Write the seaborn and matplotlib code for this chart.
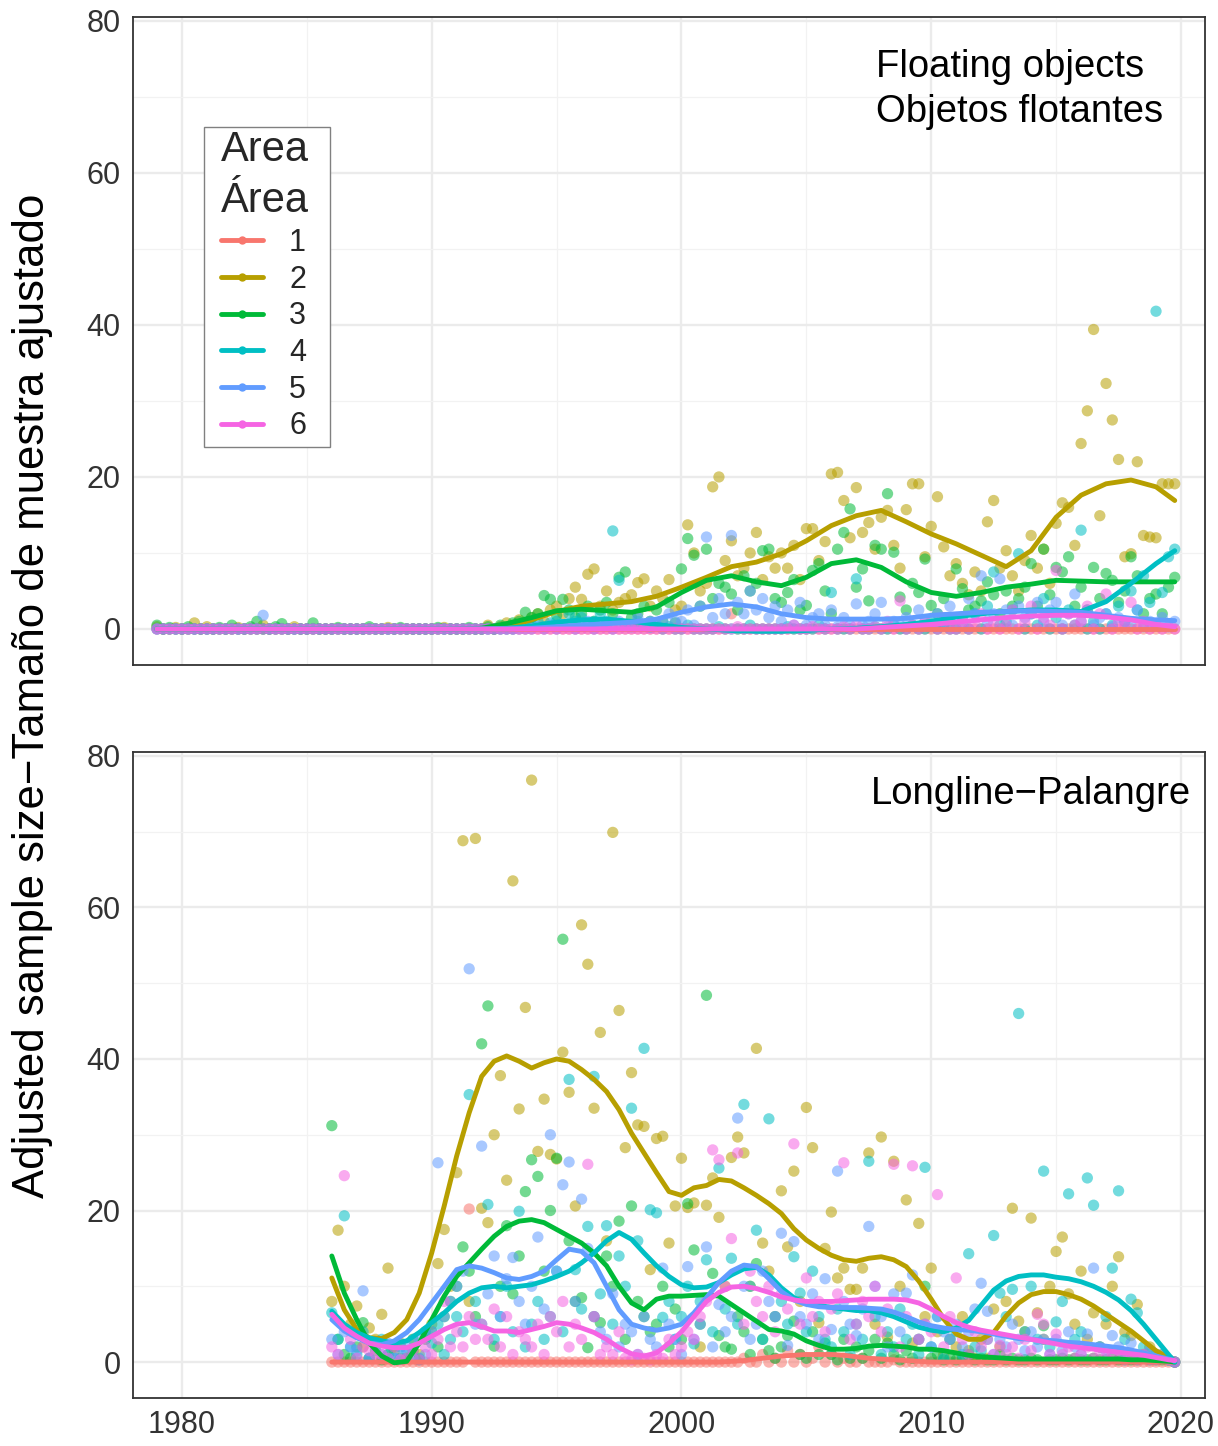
import numpy as np
import pandas as pd
import matplotlib
matplotlib.use("Agg")
import matplotlib.pyplot as plt
import seaborn as sns
from matplotlib.lines import Line2D
from matplotlib.patches import Rectangle
from matplotlib.ticker import MultipleLocator

# ---------------- data ----------------
areas = ["1", "2", "3", "4", "5", "6"]
area_colors = ["#F8766D", "#B79F00", "#00BA38", "#00BFC4", "#619CFF", "#F564E3"]
quarters = [0.0, 0.25, 0.5, 0.75]
top_years = list(range(1979, 2020))
bot_years = list(range(1986, 2020))
x_ticks = [1980, 1990, 2000, 2010, 2020]
y_ticks = [0, 20, 40, 60, 80]
top_label = "Floating objects\nObjetos flotantes"
bot_label = "Longline\u2212Palangre"
y_label = "Adjusted sample size\u2212Tama\u00f1o de muestra ajustado"
legend_title = "Area\n\u00c1rea"

# Floating objects, quarterly 1979-2019 (4 values per year)
top_area1 = [
    0, 0, 0, 0, 0, 0, 0, 0, 0, 0, 0, 0, 0, 0, 0, 0,
    0, 0, 0, 0, 0, 0, 0, 0, 0, 0, 0, 0, 0, 0, 0, 0,
    0, 0, 0, 0, 0, 0, 0, 0, 0, 0, 0, 0, 0, 0, 0, 0,
    0, 0, 0, 0, 0, 0, 0, 0, 0, 0, 0, 0, 0, 0, 0, 0,
    0, 0, 0, 0, 0, 0, 0, 0, 0, 0, 0, 0, 0, 0, 0, 0,
    0, 0, 0, 0, 0, 0, 0, 0, 0, 0, 0, 0, 2.0, 0, 0, 0,
    0, 0, 0, 0, 0, 0, 0, 0, 0, 0, 0, 0, 0, 0, 0, 0,
    0, 0, 0, 0, 0, 0, 0, 0, 0, 0, 0, 0, 0, 0, 0, 0,
    0, 0, 0, 0, 0, 0, 0, 0, 0, 0, 0, 0, 0, 0, 0, 0,
    0, 0, 0, 0, 0, 0, 0, 0, 0, 0, 0, 0, 0, 0, 0, 0,
    0, 0, 0, 0]
top_area2 = [
    0.3, 0, 0, 0.2, 0, 0, 0.8, 0, 0.3, 0, 0, 0, 0, 0.2, 0, 0,
    0, 0.5, 0, 0, 0, 0, 0.3, 0, 0, 0, 0, 0, 0, 0, 0, 0,
    0, 0, 0, 0, 0, 0.2, 0, 0, 0, 0, 0, 0, 0, 0, 0.2, 0,
    0, 0, 0, 0, 0, 0.5, 0, 0.3, 0.8, 0.5, 1.2, 0.7, 1.5, 2.0, 1.0, 2.5,
    3.0, 2.0, 4.0, 5.5, 3.9, 7.2, 7.9, 3.0, 5.0, 2.5, 3.5, 4.0, 4.5, 6.1, 6.6, 3.0,
    5.0, 4.0, 6.5, 2.5, 3.0, 13.7, 10.0, 5.0, 6.0, 18.7, 20.0, 9.0, 11.6, 7.0, 8.0, 10.0,
    12.7, 6.5, 9.5, 8.0, 10.0, 8.0, 11.0, 6.5, 13.2, 13.2, 9.0, 11.5, 20.4, 20.6, 16.9, 12.0,
    18.6, 12.7, 14.0, 10.5, 14.7, 15.6, 11.0, 8.0, 15.7, 19.1, 19.1, 9.5, 13.5, 17.4, 10.8, 7.0,
    8.6, 6.0, 4.5, 7.5, 5.0, 14.1, 16.9, 8.0, 10.3, 7.0, 5.0, 9.0, 12.3, 8.0, 10.5, 6.0,
    13.9, 16.6, 16.0, 11.0, 24.4, 28.7, 39.4, 14.9, 32.3, 27.5, 22.3, 9.5, 9.9, 22.0, 12.3, 12.1,
    12.0, 19.1, 19.1, 19.1]
top_area3 = [
    0.5, 0, 0.2, 0, 0, 0.3, 0, 0, 0, 0, 0.2, 0, 0.5, 0, 0, 0.3,
    1.0, 0, 0, 0.3, 0.7, 0, 0, 0, 0, 0.8, 0, 0, 0, 0.2, 0, 0,
    0, 0, 0.3, 0, 0, 0, 0, 0.2, 0, 0, 0, 0, 0, 0.2, 0, 0,
    0, 0, 0.2, 0, 0, 0.3, 0, 0.5, 0.3, 0.8, 1.0, 2.2, 1.5, 2.0, 4.4, 3.9,
    1.8, 3.9, 2.5, 1.5, 2.0, 3.0, 1.0, 2.5, 3.5, 2.0, 6.8, 7.5, 1.5, 2.0, 3.0, 1.0,
    2.5, 1.0, 3.5, 0.8, 7.9, 11.9, 9.7, 3.0, 10.5, 4.0, 6.0, 5.5, 4.6, 2.5, 7.0, 5.0,
    6.0, 10.3, 10.5, 4.0, 3.5, 4.8, 6.5, 2.5, 3.1, 7.7, 8.6, 5.0, 2.0, 10.5, 12.7, 15.8,
    5.5, 7.9, 3.7, 11.0, 10.5, 17.8, 10.1, 4.2, 2.5, 6.0, 4.8, 9.2, 3.1, 2.0, 4.0, 1.5,
    7.9, 5.3, 2.5, 3.0, 3.7, 6.2, 4.5, 2.0, 5.0, 3.0, 4.0, 5.5, 8.6, 3.0, 10.5, 4.5,
    8.1, 7.5, 9.5, 3.0, 5.5, 2.5, 8.1, 4.0, 7.3, 6.4, 3.5, 5.0, 9.5, 7.0, 2.0, 4.0,
    4.6, 2.0, 5.5, 6.8]
top_area4 = [
    0, 0, 0, 0, 0, 0, 0, 0, 0, 0, 0, 0, 0, 0, 0, 0,
    0, 0, 0, 0, 0, 0, 0, 0, 0, 0, 0, 0, 0, 0, 0, 0,
    0, 0, 0, 0, 0, 0, 0, 0, 0, 0, 0, 0, 0, 0, 0, 0,
    0, 0, 0, 0, 0, 0, 0, 0, 0, 0, 0.3, 0.5, 0.5, 1.0, 0.3, 0.8,
    1.0, 0.5, 2.0, 1.0, 1.5, 0.5, 1.0, 2.0, 1.0, 12.9, 6.4, 0.5, 0.3, 1.0, 0.5, 0.2,
    0.5, 0, 0.3, 0, 0, 0.5, 0, 0, 0, 0, 0.3, 0, 0, 0, 0, 0.5,
    0, 0, 0, 0, 0, 0.3, 0, 0, 0, 0, 0.5, 0, 4.8, 0, 0, 0,
    6.6, 0, 0, 0.3, 0, 0, 0.5, 0, 0, 0.5, 0, 0, 1.0, 0, 0.5, 0,
    0, 1.5, 0, 2.0, 0, 3.0, 7.5, 0.5, 1.0, 2.5, 9.9, 0, 2.0, 0.5, 4.0, 0,
    1.5, 0, 2.5, 0.5, 13.0, 0, 1.0, 0, 2.0, 0.5, 3.0, 1.0, 5.0, 2.5, 7.0, 3.5,
    41.8, 4.8, 9.5, 10.5]
top_area5 = [
    0, 0, 0, 0, 0, 0, 0, 0, 0, 0, 0, 0, 0, 0, 0, 0,
    0, 1.8, 0, 0, 0, 0, 0, 0, 0, 0, 0, 0, 0, 0, 0, 0,
    0, 0, 0, 0, 0, 0, 0, 0, 0, 0, 0, 0, 0, 0, 0, 0,
    0, 0, 0, 0, 0, 0, 0, 0, 0, 0, 0, 0, 0, 0.3, 0, 0.5,
    0, 0.5, 0.3, 0, 0.5, 1.0, 0, 0.5, 0.5, 0, 1.0, 0.5, 0.3, 1.5, 0.5, 1.0,
    0.5, 1.0, 2.0, 1.0, 1.0, 2.5, 0.5, 3.0, 12.1, 1.5, 4.0, 2.0, 12.3, 3.5, 2.0, 5.0,
    2.5, 4.0, 1.5, 3.0, 1.0, 2.5, 0.5, 3.5, 0.5, 1.5, 2.0, 0.5, 2.5, 0.3, 1.5, 0.5,
    3.3, 0.5, 1.0, 2.0, 3.5, 0.3, 1.0, 0.5, 1.5, 0.5, 2.5, 1.0, 0.5, 2.0, 1.0, 3.0,
    1.5, 0.5, 4.0, 2.0, 7.0, 1.0, 2.0, 6.6, 2.5, 0.5, 3.0, 1.5, 2.0, 3.5, 1.0, 2.5,
    3.5, 0.5, 2.0, 4.6, 1.0, 2.5, 0.5, 1.5, 2.0, 0.3, 1.5, 1.0, 0.5, 2.5, 0.3, 1.0,
    0.5, 1.5, 0.3, 1.0]
top_area6 = [
    0, 0, 0, 0, 0, 0, 0, 0, 0, 0, 0, 0, 0, 0, 0, 0,
    0, 0, 0, 0, 0, 0, 0, 0, 0, 0, 0, 0, 0, 0, 0, 0,
    0, 0, 0, 0, 0, 0, 0, 0, 0, 0, 0, 0, 0, 0, 0, 0,
    0, 0, 0, 0, 0, 0, 0, 0, 0, 0, 0, 0, 0, 0, 0, 0,
    0, 0, 0, 0, 0, 0, 0, 0, 0, 0, 0, 0, 0, 0, 0, 0,
    0, 0, 0, 0, 0, 0, 0, 0, 0, 0, 0, 0, 0, 0.3, 0, 0,
    0, 0, 0, 0, 0, 0, 0.5, 0, 0, 0.3, 0, 0, 0, 0, 0.3, 0,
    0.5, 0, 0, 0.3, 0, 1.0, 0, 3.7, 0, 0.5, 0, 1.0, 0.5, 0, 1.5, 0,
    0, 1.0, 0, 0.5, 2.0, 0, 1.0, 0, 0.5, 2.5, 0, 1.0, 3.0, 0, 1.5, 0.5,
    7.7, 0, 2.0, 0.5, 1.0, 3.0, 0, 2.0, 4.6, 0, 1.0, 0.5, 3.5, 0, 1.0, 0,
    0.5, 0, 0.3, 0]

# Longline, quarterly 1986-2019
bot_area1 = [
    0, 0, 0, 0, 0, 0, 0, 0, 0, 0, 0, 0, 0, 0, 0, 0,
    0, 0, 0, 0, 0, 0, 20.2, 0, 0, 0, 0, 0, 0, 0, 0, 0,
    0, 0, 0, 0, 0, 0, 0, 0, 0, 0, 0, 0, 0, 0, 0, 0,
    0, 0, 0, 0, 0, 0, 0, 0, 0, 0, 0, 0, 0, 0, 0, 0,
    0, 0, 0.5, 0, 0, 1.0, 0, 0.5, 0, 1.5, 0, 1.0, 0, 0.5, 2.0, 0,
    1.0, 0, 0.5, 0, 0, 0.5, 0, 0, 0, 0, 0.3, 0, 0, 0, 0, 0,
    0, 0, 0, 0, 0, 0, 0, 0, 0, 0, 0, 0, 0, 0, 0, 0,
    0, 0, 0, 0, 0, 0, 0, 0, 0, 0, 0, 0, 0, 0, 0, 0,
    0, 0, 0, 0, 0, 0, 0, 0]
bot_area2 = [
    8.0, 17.4, 10.0, 5.0, 7.4, 2.0, 4.5, 3.0, 6.3, 12.4, 1.5, 2.5, 0.5, 3.0, 1.0, 4.0,
    5.0, 13.0, 17.5, 10.0, 25.0, 68.8, 8.0, 69.1, 20.3, 18.4, 30.0, 37.8, 24.0, 63.5, 33.4, 46.8,
    76.8, 27.8, 34.7, 27.4, 26.8, 40.9, 35.6, 20.6, 57.7, 52.5, 33.5, 43.5, 16.0, 69.9, 46.4, 28.3,
    38.2, 31.3, 31.1, 12.2, 29.5, 29.8, 15.7, 20.6, 26.9, 20.4, 21.0, 2.0, 20.7, 24.3, 19.1, 10.0,
    27.0, 29.7, 27.6, 10.0, 41.4, 15.7, 12.0, 6.0, 22.6, 15.2, 25.2, 8.0, 33.6, 28.3, 5.2, 15.0,
    19.8, 11.1, 12.4, 9.6, 9.6, 12.4, 27.6, 5.0, 29.7, 3.3, 26.5, 10.0, 21.4, 2.5, 18.3, 6.0,
    12.4, 4.0, 1.0, 3.0, 2.0, 6.0, 1.5, 0.5, 3.0, 0.5, 7.0, 2.0, 8.0, 20.3, 5.4, 4.0,
    19.0, 6.5, 3.0, 10.0, 14.6, 16.5, 9.0, 5.0, 12.0, 3.0, 6.5, 2.0, 5.0, 10.0, 13.9, 4.0,
    3.5, 7.6, 1.0, 2.0, 0.5, 1.0, 0.3, 0.0]
bot_area3 = [
    31.2, 3.0, 1.0, 0.5, 2.0, 5.2, 0.5, 1.5, 0.3, 1.0, 2.0, 0.5, 0.5, 1.5, 0.3, 3.0,
    4.0, 2.0, 6.0, 8.0, 10.0, 15.2, 12.0, 6.0, 42.0, 47.0, 2.1, 10.0, 18.0, 9.0, 14.0, 22.5,
    26.7, 24.5, 12.0, 20.0, 26.9, 55.8, 16.0, 8.0, 8.5, 1.9, 6.0, 5.2, 14.0, 10.0, 18.6, 3.0,
    20.6, 8.0, 6.0, 4.0, 5.0, 10.0, 2.0, 7.0, 3.0, 20.9, 14.8, 5.0, 48.4, 11.7, 3.5, 2.0,
    1.7, 6.0, 4.0, 1.0, 13.0, 3.0, 1.5, 0.5, 2.0, 3.5, 5.4, 1.0, 0.5, 4.0, 1.0, 2.5,
    1.0, 0.3, 3.0, 0.5, 2.0, 0.5, 1.5, 3.0, 0.5, 2.5, 1.0, 0.3, 1.5, 0.5, 3.0, 10.0,
    0.5, 1.0, 0.3, 0.5, 0.3, 0.5, 1.0, 0.3, 0.5, 0.3, 0.3, 1.0, 0.3, 0.5, 0.3, 0.3,
    0.5, 0.3, 4.8, 0.3, 0.3, 0.5, 0.3, 0.5, 0.3, 0.3, 0.5, 0.3, 0.3, 0.5, 0.3, 0.3,
    0.3, 0.3, 0.5, 0.3, 0.3, 0.3, 0.3, 0.0]
bot_area4 = [
    6.5, 3.0, 19.3, 2.0, 1.0, 4.0, 0.5, 2.5, 3.0, 1.0, 0.5, 2.0, 1.5, 3.0, 0.5, 4.0,
    2.5, 5.0, 1.0, 3.0, 6.0, 4.0, 35.3, 8.0, 5.0, 20.8, 3.0, 6.0, 10.0, 4.0, 19.9, 2.0,
    5.0, 8.0, 3.0, 6.0, 12.0, 4.0, 37.3, 12.2, 7.0, 17.9, 37.7, 9.0, 18.0, 5.0, 14.0, 10.0,
    33.5, 16.0, 41.4, 20.1, 19.7, 5.9, 8.0, 3.0, 6.0, 10.0, 2.4, 8.0, 13.5, 4.0, 25.6, 7.0,
    13.7, 5.0, 34.0, 10.0, 17.4, 3.0, 32.1, 6.0, 8.0, 5.0, 13.9, 9.1, 4.0, 12.0, 6.0, 3.0,
    2.0, 7.0, 4.0, 1.0, 5.0, 3.0, 26.5, 6.0, 1.0, 4.0, 2.0, 7.0, 3.0, 5.0, 1.0, 25.7,
    2.0, 6.0, 0.5, 3.0, 4.0, 1.0, 14.3, 2.0, 1.5, 3.0, 16.7, 9.1, 6.0, 9.6, 46.0, 4.0,
    10.0, 3.0, 25.2, 2.0, 5.3, 8.0, 22.2, 3.0, 4.0, 24.3, 20.7, 2.0, 6.0, 12.4, 22.6, 3.0,
    8.3, 6.5, 2.0, 1.0, 1.0, 0.5, 0.3, 0.0]
bot_area5 = [
    3.0, 1.0, 4.0, 2.0, 1.5, 9.4, 0.5, 2.0, 1.0, 2.5, 0.5, 1.0, 2.0, 0.5, 3.0, 1.0,
    4.0, 26.3, 6.0, 8.0, 10.0, 12.0, 51.9, 5.0, 28.5, 9.0, 14.0, 6.0, 11.0, 13.8, 8.0, 5.0,
    10.0, 16.5, 7.0, 30.0, 12.0, 23.4, 26.4, 8.0, 21.5, 15.0, 6.0, 4.0, 3.0, 9.0, 2.0, 5.0,
    4.0, 1.0, 6.0, 3.0, 2.0, 12.4, 5.0, 3.0, 1.0, 12.6, 3.0, 5.0, 15.2, 2.0, 7.6, 4.0,
    6.0, 32.2, 10.0, 3.0, 5.0, 12.0, 8.0, 6.0, 17.0, 2.2, 15.9, 6.0, 5.0, 9.0, 3.0, 11.0,
    4.3, 25.2, 8.0, 5.0, 3.5, 7.0, 17.9, 10.0, 6.0, 2.0, 9.0, 4.0, 9.1, 11.5, 3.0, 5.0,
    2.0, 6.0, 4.0, 3.0, 5.0, 2.0, 4.0, 7.0, 10.4, 6.7, 1.0, 3.0, 2.0, 5.0, 3.0, 1.5,
    4.0, 2.0, 3.0, 1.0, 3.0, 1.5, 4.0, 2.0, 1.0, 3.7, 12.4, 2.0, 1.5, 3.5, 2.0, 0.5,
    2.5, 1.0, 0.5, 1.5, 0.5, 1.0, 0.3, 0.0]
bot_area6 = [
    2.0, 1.0, 24.6, 3.0, 0.5, 2.0, 1.5, 1.0, 1.0, 0.5, 2.0, 0.3, 0.5, 1.5, 0.3, 2.0,
    1.0, 3.0, 8.0, 2.0, 4.0, 2.0, 6.0, 3.0, 5.0, 3.0, 7.0, 2.0, 6.0, 1.0, 4.0, 3.0,
    2.0, 5.0, 1.0, 6.0, 4.0, 8.0, 2.0, 5.0, 3.0, 26.1, 6.0, 1.0, 2.0, 1.0, 4.0, 0.5,
    0.3, 1.0, 0.5, 0.3, 1.0, 0.5, 3.0, 1.0, 2.0, 4.0, 3.0, 6.0, 8.0, 28.0, 26.7, 10.0,
    16.3, 27.6, 5.0, 12.0, 8.0, 6.0, 10.0, 4.0, 9.0, 7.0, 28.8, 5.0, 11.1, 6.0, 8.0, 4.0,
    7.0, 9.0, 26.3, 3.0, 5.0, 8.0, 6.0, 10.0, 4.0, 7.0, 26.1, 2.0, 6.0, 25.9, 3.0, 5.0,
    4.0, 22.1, 2.0, 6.0, 11.1, 3.0, 1.0, 4.0, 2.0, 3.0, 1.0, 2.2, 1.0, 2.0, 0.5, 3.0,
    1.5, 6.3, 5.0, 1.0, 3.7, 1.0, 2.0, 0.5, 1.0, 2.0, 0.5, 1.5, 0.5, 1.0, 1.5, 0.3,
    0.5, 0.3, 1.0, 0.3, 0.3, 0.5, 0.3, 0.0]

# Smoothed trend lines
top_smooth_x = [1979, 1980, 1981, 1982, 1983, 1984, 1985, 1986, 1987, 1988, 1989, 1990,
                1991, 1992, 1993, 1994, 1995, 1996, 1997, 1998, 1999, 2000, 2001, 2002,
                2003, 2004, 2005, 2006, 2007, 2008, 2009, 2010, 2011, 2012, 2013, 2014,
                2015, 2016, 2017, 2018, 2019, 2019.75]
top_fit1 = [0, 0, 0, 0, 0, 0, 0, 0, 0, 0, 0, 0, 0, 0, 0, 0, 0, 0, 0, 0, 0,
            0, 0, 0, 0, 0, 0, 0, 0, 0, 0, 0, 0, 0, 0, 0, 0, 0, 0, 0, 0, 0]
top_fit2 = [0, 0, 0, 0, 0, 0, 0, 0, 0, 0, 0, 0, 0, 0,
            0.3, 1.2, 2.3, 3.0, 3.3, 3.6, 4.3, 5.5, 6.8, 8.2, 8.8, 9.9, 11.6, 13.6,
            14.9, 15.6, 14.1, 12.5, 11.2, 9.7, 8.2, 10.3, 14.7, 17.6, 19.1, 19.6, 18.7, 16.9]
top_fit3 = [0, 0, 0, 0, 0, 0, 0, 0, 0, 0, 0, 0, 0,
            0.1, 0.7, 1.5, 2.4, 2.6, 2.4, 2.2, 2.9, 4.8, 6.4, 7.0, 6.2, 5.7, 6.8, 8.6,
            9.1, 8.1, 6.2, 4.8, 4.3, 4.8, 5.5, 5.9, 6.4, 6.3, 6.2, 6.2, 6.2, 6.2]
top_fit4 = [0, 0, 0, 0, 0, 0, 0, 0, 0, 0, 0, 0, 0, 0,
            0.1, 0.4, 0.9, 1.2, 1.3, 1.0, 0.6, 0.2, 0, -0.2, -0.3, -0.3, -0.2, 0,
            0.1, 0.3, 0.6, 1.0, 1.6, 2.0, 2.3, 2.5, 2.5, 2.3, 3.6, 6.0, 8.6, 10.3]
top_fit5 = [0, 0, 0, 0, 0, 0, 0, 0, 0, 0, 0, 0, 0, 0,
            0, 0.1, 0.3, 0.5, 0.7, 0.9, 1.3, 2.2, 2.9, 3.3, 2.9, 2.0, 1.5, 1.3,
            1.3, 1.3, 1.4, 1.8, 2.0, 2.2, 2.3, 2.4, 2.3, 2.2, 1.8, 1.4, 1.2, 1.1]
top_fit6 = [0, 0, 0, 0, 0, 0, 0, 0, 0, 0, 0, 0, 0, 0, 0, 0, 0, 0, 0, 0, 0, 0, 0, 0,
            0, 0, 0, 0, 0,
            0.2, 0.4, 0.6, 0.9, 1.2, 1.5, 1.7, 1.8, 1.8, 1.6, 1.2, 0.6, 0.3]

bot_smooth_x = [1986.0, 1986.5, 1987.0, 1987.5, 1988.0, 1988.5, 1989.0, 1989.5,
                1990.0, 1990.5, 1991.0, 1991.5, 1992.0, 1992.5, 1993.0, 1993.5,
                1994.0, 1994.5, 1995.0, 1995.5, 1996.0, 1996.5, 1997.0, 1997.5,
                1998.0, 1998.5, 1999.0, 1999.5, 2000.0, 2000.5, 2001.0, 2001.5,
                2002.0, 2002.5, 2003.0, 2003.5, 2004.0, 2004.5, 2005.0, 2005.5,
                2006.0, 2006.5, 2007.0, 2007.5, 2008.0, 2008.5, 2009.0, 2009.5,
                2010.0, 2010.5, 2011.0, 2011.5, 2012.0, 2012.5, 2013.0, 2013.5,
                2014.0, 2014.5, 2015.0, 2015.5, 2016.0, 2016.5, 2017.0, 2017.5,
                2018.0, 2018.5, 2019.0, 2019.5, 2019.75]
bot_fit1 = [0, 0, 0, 0, 0, 0, 0, 0, 0, 0, 0, 0, 0, 0, 0, 0,
            0, 0, 0, 0, 0, 0, 0, 0, 0, 0, 0, 0, 0, 0, 0, 0,
            0.1, 0.2, 0.4, 0.6, 0.8, 0.9, 1.0, 1.0, 1.0, 0.9, 0.7, 0.5, 0.4, 0.3, 0.2, 0.1,
            0, 0, 0, 0, 0, 0, 0, 0, 0, 0, 0, 0, 0, 0, 0, 0, 0, 0, 0, 0, 0]
bot_fit2 = [11.1, 6.9, 4.3, 3.2, 3.1, 3.9, 5.6, 9.1, 14.4, 20.6, 27.2, 32.9, 37.7, 39.7,
            40.4, 39.7, 38.8, 39.5, 40.0, 39.7, 38.6, 37.3, 35.7, 33.3, 30.2, 27.6, 25.0,
            22.5, 22.0, 23.0, 23.3, 24.1, 23.9, 23.0, 22.0, 20.9, 19.6, 17.6, 16.1, 15.0,
            14.1, 13.5, 13.3, 13.7, 13.9, 13.5, 12.6, 10.7, 8.3, 5.7, 3.7, 3.0, 3.0, 3.9,
            6.1, 7.8, 8.9, 9.3, 9.3, 8.9, 8.3, 7.4, 6.3, 5.2, 4.1, 2.8, 1.5, 0.6, 0.2]
bot_fit3 = [14.0, 9.1, 5.6, 2.5, 0.8, -0.1, 0.1, 2.5, 5.6, 8.7, 11.3, 13.1, 14.9, 16.6,
            17.9, 18.6, 18.8, 18.4, 17.5, 16.6, 15.7, 14.4, 12.7, 10.0, 7.8, 6.9, 8.3,
            8.7, 8.7, 8.8, 8.9, 8.7, 7.6, 6.5, 5.4, 4.3, 4.1, 3.7, 2.8, 2.2, 1.7, 1.7,
            1.8, 2.1, 2.2, 2.1, 2.0, 1.7, 1.7, 1.5, 1.2, 0.9, 0.7, 0.6, 0.5, 0.4, 0.4,
            0.4, 0.4, 0.4, 0.4, 0.4, 0.4, 0.4, 0.3, 0.3, 0.2, 0.1, 0.0]
bot_fit4 = [6.7, 5.0, 3.9, 3.2, 2.8, 2.5, 2.8, 3.9, 5.2, 6.5, 8.0, 9.1, 9.8, 10.0,
            9.8, 10.0, 10.2, 10.7, 11.3, 12.0, 13.1, 14.4, 16.0, 17.1, 16.2, 14.4, 12.7,
            11.3, 10.2, 9.8, 9.9, 10.5, 11.5, 12.3, 12.5, 11.5, 9.8, 8.5, 7.8, 7.5, 7.2,
            7.0, 6.8, 6.8, 6.5, 6.0, 5.3, 4.6, 4.2, 4.0, 4.5, 5.5, 7.5, 9.5, 10.7, 11.3,
            11.5, 11.5, 11.2, 11.0, 10.6, 10.0, 9.2, 8.2, 6.8, 5.0, 3.0, 1.0, 0.0]
bot_fit5 = [5.6, 4.1, 3.2, 2.5, 2.3, 2.8, 3.9, 5.6, 7.8, 10.0, 12.2, 12.7, 12.4, 11.8,
            11.1, 10.9, 11.3, 12.0, 13.5, 14.9, 14.6, 13.1, 10.0, 6.9, 5.0, 4.5, 4.2,
            4.5, 5.0, 6.5, 8.5, 10.5, 12.0, 12.8, 12.6, 11.0, 9.3, 8.2, 7.6, 7.3, 7.2,
            7.2, 7.2, 7.1, 7.0, 6.6, 6.0, 5.3, 4.8, 4.5, 4.3, 4.2, 4.0, 3.7, 3.4, 3.1,
            3.0, 2.9, 2.8, 2.6, 2.5, 2.3, 2.1, 1.9, 1.6, 1.2, 0.8, 0.4, 0.2]
bot_fit6 = [6.3, 4.5, 3.4, 2.5, 2.1, 1.9, 1.9, 2.5, 3.4, 4.3, 5.0, 5.2, 4.7, 4.1,
            4.1, 3.9, 4.3, 4.7, 5.2, 5.0, 4.5, 3.9, 3.0, 1.9, 1.1, 0.8, 1.2, 2.5, 4.0,
            6.0, 8.0, 9.2, 9.9, 10.0, 9.7, 9.2, 8.6, 8.2, 8.0, 8.0, 8.0, 8.1, 8.2, 8.3,
            8.3, 8.3, 8.2, 7.8, 7.0, 6.0, 5.2, 4.6, 4.2, 3.9, 3.6, 3.3, 3.0, 2.7, 2.4,
            2.1, 1.9, 1.7, 1.5, 1.3, 1.1, 0.9, 0.6, 0.3, 0.2]

# ---------------- tables ----------------
def quarter_x(years):
    return [y + q for y in years for q in quarters]


def long_frame(xs, series):
    rows = []
    for area, vals in zip(areas, series):
        for xv, yv in zip(xs, vals):
            rows.append((xv, yv, area))
    return pd.DataFrame(rows, columns=["Year", "Value", "Area"])


top_pts = long_frame(quarter_x(top_years), [top_area1, top_area2, top_area3,
                                            top_area4, top_area5, top_area6])
bot_pts = long_frame(quarter_x(bot_years), [bot_area1, bot_area2, bot_area3,
                                            bot_area4, bot_area5, bot_area6])
top_fit = long_frame(top_smooth_x, [top_fit1, top_fit2, top_fit3,
                                    top_fit4, top_fit5, top_fit6])
bot_fit = long_frame(bot_smooth_x, [bot_fit1, bot_fit2, bot_fit3,
                                    bot_fit4, bot_fit5, bot_fit6])

palette = dict(zip(areas, area_colors))

# ---------------- figure ----------------
sns.set_theme(style="white")
plt.rcParams["font.family"] = ["Liberation Sans", "DejaVu Sans"]

fig = plt.figure(figsize=(12.18, 14.46), dpi=100)
ax_top = fig.add_axes([0.1092, 0.5401, 0.8801, 0.4481])
ax_bot = fig.add_axes([0.1092, 0.0332, 0.8801, 0.4467])

for ax, pts, fit in [(ax_top, top_pts, top_fit), (ax_bot, bot_pts, bot_fit)]:
    ax.set_facecolor("white")
    sns.scatterplot(data=pts, x="Year", y="Value", hue="Area", hue_order=areas,
                    palette=palette, s=66, alpha=0.55, linewidth=0,
                    legend=False, ax=ax, zorder=2)
    sns.lineplot(data=fit, x="Year", y="Value", hue="Area", hue_order=areas,
                 palette=palette, linewidth=3.5, estimator=None, sort=True,
                 legend=False, ax=ax, zorder=3)
    ax.set_xlim(1978.04, 2020.96)
    ax.set_ylim(-4.74, 80.5)
    ax.set_xticks(x_ticks)
    ax.set_yticks(y_ticks)
    ax.xaxis.set_minor_locator(MultipleLocator(5))
    ax.yaxis.set_minor_locator(MultipleLocator(10))
    ax.grid(which="major", color="#EBEBEB", linewidth=1.7)
    ax.grid(which="minor", color="#F2F2F2", linewidth=0.9)
    ax.set_axisbelow(True)
    for sp in ax.spines.values():
        sp.set_color("#333333")
        sp.set_linewidth(1.3)
    ax.tick_params(which="major", direction="out", length=5, width=1.1,
                   color="#333333", labelsize=22, labelcolor="#333333", pad=4)
    ax.tick_params(which="minor", length=0)
    ax.set_xlabel("")
    ax.set_ylabel("")

ax_top.tick_params(axis="x", which="major", length=0, labelbottom=False)

ax_top.text(2007.79, 71.0, top_label, ha="left", va="center",
            fontsize=27.5, color="black", linespacing=1.32)
ax_bot.text(2020.4, 75.0, bot_label, ha="right", va="center",
            fontsize=27.5, color="black")

fig.text(0.027, 0.519, y_label, rotation=90, ha="center", va="center",
         fontsize=31.5, color="black")

# legend frame (ggplot-style box) and legend content
legend_box = Rectangle((0.1675, 0.6909), 0.1034, 0.2213, transform=fig.transFigure,
                       facecolor="white", edgecolor="#808080", linewidth=1.0,
                       zorder=4.5)
ax_top.add_artist(legend_box)

handles = [Line2D([0], [0], color=c, lw=3.5, marker="o", markersize=6,
                  markerfacecolor=c, markeredgewidth=0) for c in area_colors]
leg = ax_top.legend(handles, areas, title=legend_title, loc="upper left",
                    bbox_to_anchor=(0.0737, 0.8395), fontsize=22,
                    title_fontsize=30, frameon=False, handlelength=1.37,
                    handletextpad=0.85, labelspacing=0.22, borderpad=0.3,
                    borderaxespad=0.0)
leg.set_zorder(5)
leg._legend_box.align = "left"
leg.get_title().set_linespacing(1.35)

fig.savefig("out.png", dpi=100, facecolor="white")
